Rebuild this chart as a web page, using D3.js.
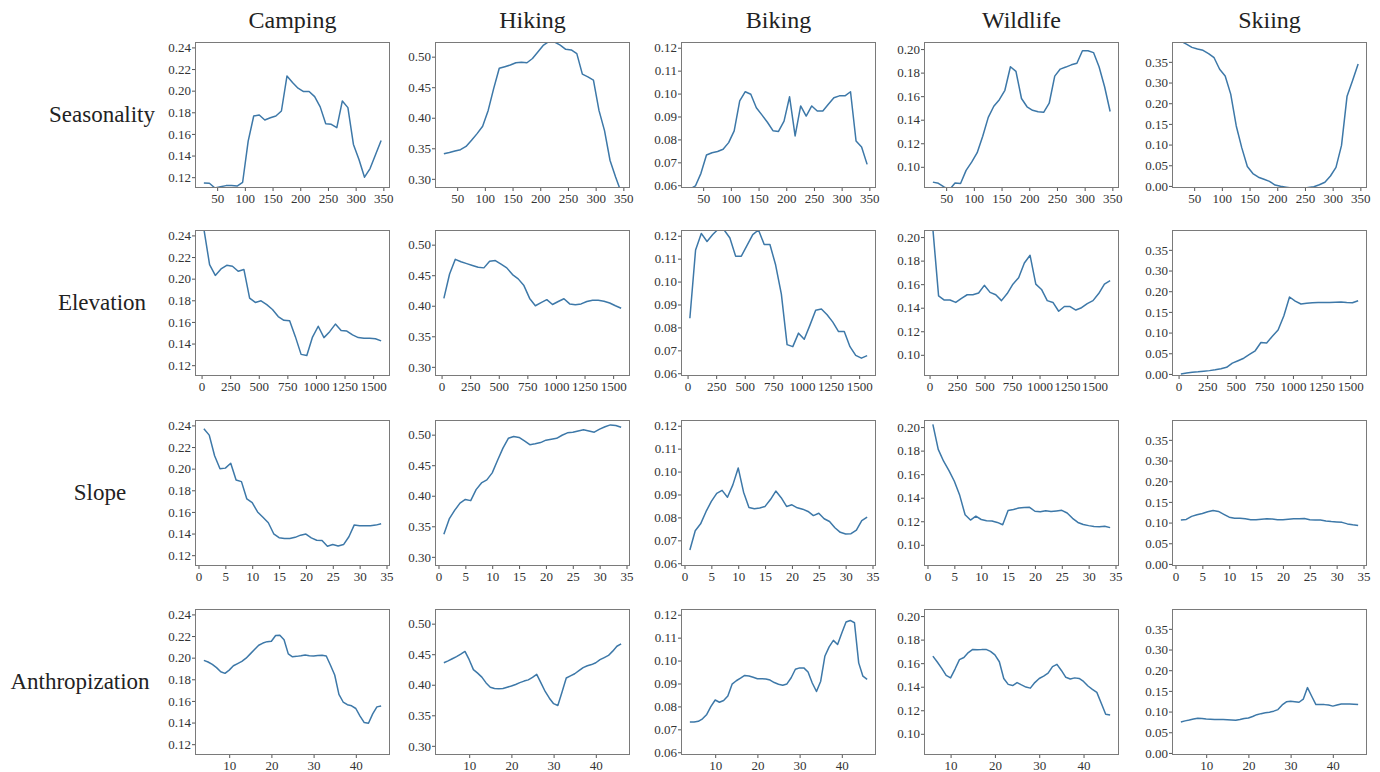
<!DOCTYPE html>
<html>
<head>
<meta charset="utf-8">
<script src="https://cdn.jsdelivr.net/npm/d3@7/dist/d3.min.js"></script>
<style>
  html, body { margin: 0; padding: 0; background: #fff; }
  svg { display: block; }
</style>
</head>
<body>
<svg id="chart" width="1380" height="772"></svg>
<script>
// ---------------- data ----------------
const activities = ["Camping", "Hiking", "Biking", "Wildlife", "Skiing"];
const factors = ["Seasonality", "Elevation", "Slope", "Anthropization"];

// sampled x positions
const seasonDays = [26,36,46,56,66,76,86,96,106,116,126,136,146,156,166,176,186,196,206,216,226,236,246,256,266,276,286,296,306,316,326,336,346];
const elevationM = [20,70,120,170,220,270,320,370,420,470,520,570,620,670,720,770,820,870,920,970,1020,1070,1120,1170,1220,1270,1320,1370,1420,1470,1520,1570];
const elevationWildlifeM = [30,82,134,186,238,290,342,394,446,498,550,602,654,706,758,810,862,914,966,1018,1070,1122,1174,1226,1278,1330,1382,1434,1486,1538,1590,1642];
const slopeDeg = [1,2,3,4,5,6,7,8,9,10,11,12,13,14,15,16,17,18,19,20,21,22,23,24,25,26,27,28,29,30,31,32,33,34];
const anthropIdx = [4,5,6,7,8,9,10,11,12,13,14,15,16,17,18,19,20,21,22,23,24,25,26,27,28,29,30,31,32,33,34,35,36,37,38,39,40,41,42,43,44,45,46];
const anthropWildlifeIdx = [6,7,8,9,10,11,12,13,14,15,16,17,18,19,20,21,22,23,24,25,26,27,28,29,30,31,32,33,34,35,36,37,38,39,40,41,42,43,44,45,46];

// Seasonality
const campingSeason = [0.1147,0.1144,0.110,0.1112,0.1122,0.1122,0.1118,0.1153,0.1534,0.1766,0.1775,0.1729,0.175,0.1766,0.1812,0.2135,0.2075,0.2023,0.1992,0.1992,0.1945,0.185,0.1695,0.1689,0.1658,0.1905,0.1843,0.1503,0.1364,0.120,0.128,0.141,0.154];
const hikingSeason = [0.341,0.343,0.3455,0.3477,0.353,0.363,0.374,0.386,0.412,0.448,0.481,0.4836,0.4863,0.490,0.491,0.490,0.497,0.508,0.519,0.525,0.524,0.519,0.512,0.511,0.505,0.4715,0.467,0.4616,0.412,0.379,0.330,0.303,0.278];
const bikingSeason = [0.0583,0.0597,0.0652,0.0732,0.0742,0.0747,0.0757,0.0786,0.0837,0.0968,0.1008,0.0997,0.0938,0.0907,0.0875,0.0838,0.0835,0.088,0.0986,0.0815,0.0946,0.0902,0.0946,0.0924,0.0924,0.0953,0.0982,0.099,0.099,0.1008,0.0793,0.0767,0.0691];
const wildlifeSeason = [0.087,0.086,0.083,0.0806,0.0862,0.0858,0.097,0.104,0.112,0.126,0.142,0.1514,0.157,0.165,0.185,0.181,0.158,0.151,0.148,0.1467,0.1463,0.154,0.177,0.183,0.1847,0.1866,0.188,0.1986,0.1986,0.197,0.185,0.168,0.147];
const skiingSeason = [0.350,0.343,0.335,0.331,0.328,0.320,0.310,0.282,0.266,0.222,0.145,0.092,0.047,0.030,0.021,0.016,0.011,0.002,-0.001,-0.003,-0.005,-0.006,-0.006,-0.004,-0.002,0.003,0.009,0.024,0.045,0.098,0.217,0.255,0.295];

// Elevation
const campingElev = [0.246,0.213,0.203,0.209,0.2124,0.2115,0.2068,0.2085,0.182,0.178,0.1795,0.176,0.1715,0.165,0.1615,0.161,0.1464,0.130,0.129,0.146,0.156,0.1455,0.151,0.158,0.152,0.1516,0.148,0.1455,0.1448,0.1448,0.1445,0.1425];
const hikingElev = [0.412,0.452,0.476,0.472,0.469,0.466,0.463,0.462,0.473,0.474,0.468,0.462,0.451,0.444,0.433,0.412,0.400,0.405,0.410,0.402,0.407,0.4115,0.403,0.4015,0.403,0.407,0.409,0.409,0.4075,0.4045,0.400,0.396];
const bikingElev = [0.084,0.1138,0.121,0.1175,0.1205,0.123,0.1225,0.119,0.1111,0.1111,0.1158,0.1205,0.1225,0.1162,0.1162,0.1072,0.0945,0.0725,0.0716,0.0775,0.0748,0.081,0.0875,0.088,0.0855,0.0823,0.0782,0.0782,0.0716,0.0678,0.0666,0.0677];
const wildlifeElev = [0.207,0.150,0.1465,0.1465,0.1445,0.148,0.151,0.151,0.1525,0.159,0.153,0.151,0.146,0.152,0.160,0.1655,0.178,0.1845,0.160,0.1555,0.146,0.1445,0.137,0.141,0.141,0.138,0.140,0.1435,0.146,0.152,0.160,0.163];
const skiingElev = [0.000,0.002,0.004,0.005,0.0065,0.008,0.010,0.0125,0.016,0.026,0.032,0.038,0.047,0.056,0.076,0.075,0.091,0.106,0.140,0.186,0.176,0.169,0.171,0.172,0.1725,0.173,0.173,0.1735,0.174,0.1725,0.172,0.177];

// Slope
const campingSlope = [0.237,0.231,0.212,0.200,0.2005,0.205,0.1895,0.188,0.172,0.1685,0.160,0.155,0.150,0.1398,0.1362,0.1355,0.1355,0.1365,0.1385,0.1395,0.136,0.1338,0.1335,0.1283,0.1298,0.1285,0.1298,0.137,0.148,0.1473,0.1473,0.1473,0.1478,0.149];
const hikingSlope = [0.337,0.362,0.376,0.388,0.394,0.392,0.410,0.421,0.426,0.4375,0.458,0.478,0.494,0.497,0.4955,0.490,0.4836,0.485,0.487,0.491,0.4925,0.494,0.499,0.503,0.504,0.506,0.508,0.506,0.504,0.509,0.513,0.516,0.515,0.512];
const bikingSlope = [0.0658,0.0742,0.0772,0.0825,0.087,0.0905,0.0918,0.0888,0.0942,0.1016,0.091,0.0843,0.0838,0.0841,0.0848,0.0878,0.0915,0.0886,0.0848,0.0855,0.0842,0.0836,0.0826,0.0808,0.0818,0.0794,0.0782,0.0755,0.0735,0.0728,0.0729,0.0745,0.0786,0.0801];
const wildlifeSlope = [0.2023,0.181,0.171,0.163,0.154,0.142,0.1255,0.121,0.1243,0.1215,0.1205,0.1203,0.119,0.117,0.1292,0.130,0.1312,0.1316,0.1318,0.1285,0.128,0.129,0.1282,0.1288,0.1293,0.127,0.1225,0.119,0.1173,0.1163,0.1155,0.1153,0.1157,0.1146];
const skiingSlope = [0.1065,0.1075,0.115,0.119,0.122,0.126,0.129,0.127,0.120,0.113,0.1105,0.1105,0.109,0.107,0.1068,0.108,0.109,0.1085,0.107,0.1068,0.108,0.109,0.1095,0.110,0.107,0.1065,0.106,0.104,0.1025,0.1015,0.1005,0.0968,0.0945,0.0927];

// Anthropization
const campingAnthrop = [0.1975,0.196,0.1938,0.1908,0.187,0.1855,0.1885,0.1925,0.1945,0.1965,0.1995,0.2035,0.2075,0.2115,0.2135,0.2148,0.2152,0.2205,0.2208,0.2165,0.2035,0.2008,0.2012,0.2018,0.2025,0.2018,0.2015,0.202,0.2022,0.2015,0.193,0.184,0.166,0.159,0.1565,0.1555,0.153,0.146,0.140,0.1394,0.148,0.1545,0.1554];
const hikingAnthrop = [0.436,0.439,0.4425,0.446,0.450,0.4545,0.441,0.4248,0.419,0.4125,0.403,0.396,0.394,0.3935,0.394,0.396,0.398,0.4005,0.4035,0.406,0.408,0.412,0.417,0.403,0.389,0.378,0.369,0.366,0.388,0.411,0.4145,0.418,0.423,0.428,0.431,0.433,0.436,0.441,0.4445,0.448,0.455,0.463,0.467];
const bikingAnthrop = [0.0732,0.0732,0.0735,0.0746,0.0765,0.0800,0.0828,0.0818,0.0826,0.0845,0.0897,0.0912,0.0923,0.0935,0.0933,0.0927,0.0921,0.0921,0.092,0.0915,0.0904,0.0897,0.0892,0.0898,0.0925,0.0962,0.0968,0.0968,0.095,0.0902,0.0865,0.091,0.102,0.106,0.1088,0.107,0.112,0.1168,0.1175,0.1165,0.099,0.0932,0.0918];
const wildlifeAnthrop = [0.166,0.161,0.1556,0.1496,0.1475,0.155,0.163,0.1648,0.169,0.1717,0.1714,0.1715,0.1717,0.170,0.167,0.1612,0.147,0.142,0.141,0.1435,0.1415,0.1397,0.1388,0.1435,0.147,0.149,0.1515,0.157,0.159,0.1538,0.148,0.1465,0.1475,0.147,0.1445,0.1406,0.1378,0.1352,0.126,0.1166,0.116];
const skiingAnthrop = [0.075,0.0775,0.0795,0.082,0.084,0.0835,0.0822,0.0815,0.0806,0.0806,0.0806,0.080,0.0795,0.079,0.081,0.0835,0.0845,0.088,0.0925,0.095,0.097,0.0985,0.101,0.1048,0.116,0.1235,0.125,0.124,0.1225,0.130,0.158,0.137,0.117,0.117,0.1168,0.1158,0.1132,0.1158,0.1185,0.1185,0.1182,0.1175,0.117];

// tick values
const seasonTicks = [50,100,150,200,250,300,350];
const elevationTicks = [0,250,500,750,1000,1250,1500];
const slopeTicks = [0,5,10,15,20,25,30,35];
const anthropTicks = [10,20,30,40];
const campingTicks = [0.12,0.14,0.16,0.18,0.20,0.22,0.24];
const hikingTicks = [0.30,0.35,0.40,0.45,0.50];
const bikingTicks = [0.06,0.07,0.08,0.09,0.10,0.11,0.12];
const wildlifeTicks = [0.10,0.12,0.14,0.16,0.18,0.20];
const skiingTicks = [0.00,0.05,0.10,0.15,0.20,0.25,0.30];
const skiingTickLabels = ["0.00","0.05","0.10","0.15","0.20","0.30","0.35"];

// y ranges shared down each column
const campingDomain = [0.110, 0.245];
const hikingDomain = [0.285, 0.524];
const bikingDomain = [0.0588, 0.1225];
const wildlifeDomain = [0.082, 0.206];
const skiingDomain = [-0.005, 0.348];

// ---------------- assembled tables ----------------
const rowX = [
  [seasonDays, seasonDays, seasonDays, seasonDays, seasonDays],
  [elevationM, elevationM, elevationM, elevationWildlifeM, elevationM],
  [slopeDeg, slopeDeg, slopeDeg, slopeDeg, slopeDeg],
  [anthropIdx, anthropIdx, anthropIdx, anthropWildlifeIdx, anthropIdx]
];
const rowY = [
  [campingSeason, hikingSeason, bikingSeason, wildlifeSeason, skiingSeason],
  [campingElev, hikingElev, bikingElev, wildlifeElev, skiingElev],
  [campingSlope, hikingSlope, bikingSlope, wildlifeSlope, skiingSlope],
  [campingAnthrop, hikingAnthrop, bikingAnthrop, wildlifeAnthrop, skiingAnthrop]
];
const rowXTicks = [seasonTicks, elevationTicks, slopeTicks, anthropTicks];
const colYTicks = [campingTicks, hikingTicks, bikingTicks, wildlifeTicks, skiingTicks];
const colDomain = [campingDomain, hikingDomain, bikingDomain, wildlifeDomain, skiingDomain];

// ---------------- layout ----------------
const colLeft = [195, 435, 681, 924, 1172];
const rowTop = [42, 230, 420, 609];
const panelW = 195, panelH = 146;
const rowLabelX = [102, 102, 100, 80];
const serif = '"Liberation Serif", "Times New Roman", serif';
const lineColor = "#3d78a8";

const svg = d3.select("#chart");

// column titles
svg.selectAll("text.col-title")
  .data(activities)
  .join("text")
  .attr("class", "col-title")
  .attr("x", (d, i) => colLeft[i] + panelW / 2)
  .attr("y", 28)
  .attr("text-anchor", "middle")
  .attr("font-family", serif)
  .attr("font-size", 24)
  .attr("fill", "#222")
  .text(d => d);

// row labels
svg.selectAll("text.row-title")
  .data(factors)
  .join("text")
  .attr("class", "row-title")
  .attr("x", (d, i) => rowLabelX[i])
  .attr("y", (d, i) => rowTop[i] + panelH / 2 + 7)
  .attr("text-anchor", "middle")
  .attr("font-family", serif)
  .attr("font-size", 23)
  .attr("fill", "#222")
  .text(d => d);

const defs = svg.append("defs");

// serif tick labels, thin grey tick marks
function styleAxis(sel) {
  sel.attr("font-family", serif).attr("font-size", 13);
  sel.select(".domain").remove();
  sel.selectAll(".tick line").attr("stroke", "#555");
  sel.selectAll(".tick text")
    .attr("font-family", serif)
    .attr("font-size", 13)
    .attr("fill", "#333");
}

factors.forEach((f, r) => {
  activities.forEach((a, c) => {
    const xs = rowX[r][c];
    const ys = rowY[r][c];
    const [x0, x1] = d3.extent(xs);
    const pad = (x1 - x0) * 0.05;
    const x = d3.scaleLinear().domain([x0 - pad, x1 + pad]).range([0, panelW]);
    const y = d3.scaleLinear().domain(colDomain[c]).range([panelH, 0]);

    const g = svg.append("g")
      .attr("transform", `translate(${colLeft[c]},${rowTop[r]})`);

    const clipId = `clip-${r}-${c}`;
    defs.append("clipPath").attr("id", clipId)
      .append("rect").attr("width", panelW).attr("height", panelH);

    // y axis
    const yAxis = d3.axisLeft(y)
      .tickValues(colYTicks[c])
      .tickSize(3)
      .tickPadding(1)
      .tickFormat(c === 4 ? (d, i) => skiingTickLabels[i] : d3.format(".2f"));
    g.append("g").call(yAxis).call(styleAxis);

    // x axis
    const xAxis = d3.axisBottom(x)
      .tickValues(rowXTicks[r])
      .tickSize(3)
      .tickPadding(3)
      .tickFormat(d3.format("d"));
    g.append("g").attr("transform", `translate(0,${panelH})`)
      .call(xAxis).call(styleAxis);

    // series line
    const pts = xs.map((v, i) => [v, ys[i]]);
    g.append("path")
      .datum(pts)
      .attr("clip-path", `url(#${clipId})`)
      .attr("fill", "none")
      .attr("stroke", lineColor)
      .attr("stroke-width", 1.5)
      .attr("stroke-linejoin", "round")
      .attr("d", d3.line().x(d => x(d[0])).y(d => y(d[1])));

    // frame
    g.append("rect")
      .attr("x", 0.5).attr("y", 0.5)
      .attr("width", panelW - 1).attr("height", panelH - 1)
      .attr("fill", "none")
      .attr("stroke", "#7a7a7a")
      .attr("stroke-width", 1);
  });
});
</script>
</body>
</html>
